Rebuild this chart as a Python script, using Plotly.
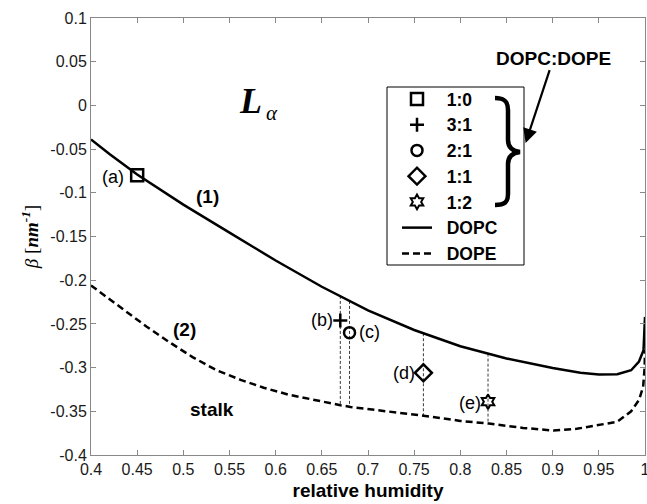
import plotly.graph_objects as go

# ---------------- data ----------------
rh_dopc = [0.40, 0.42, 0.45, 0.50, 0.55, 0.60, 0.65, 0.70, 0.75, 0.80,
           0.85, 0.90, 0.93, 0.95, 0.97, 0.985, 0.9935, 0.9984, 1.000]
beta_dopc = [-0.0390, -0.0555, -0.0790, -0.1135, -0.1455, -0.1775, -0.2075, -0.2345, -0.2570, -0.2755,
             -0.2895, -0.3005, -0.3060, -0.3078, -0.3075, -0.3030, -0.2930, -0.2800, -0.2420]

rh_dope = [0.400, 0.420, 0.440, 0.460, 0.485, 0.510, 0.536, 0.562, 0.587, 0.614,
           0.670, 0.681, 0.720, 0.760, 0.800, 0.831, 0.868, 0.901, 0.926, 0.952,
           0.970, 0.985, 0.9935, 0.998, 0.9996, 1.000]
beta_dope = [-0.206, -0.222, -0.238, -0.253, -0.271, -0.288, -0.303, -0.314, -0.323, -0.331,
             -0.343, -0.345, -0.350, -0.355, -0.361, -0.364, -0.369, -0.372, -0.370, -0.365,
             -0.362, -0.350, -0.337, -0.322, -0.300, -0.280]

mix_names = ["1:0", "3:1", "2:1", "1:1", "1:2"]
mix_tags = ["(a)", "(b)", "(c)", "(d)", "(e)"]
mix_rh = [0.45, 0.67, 0.68, 0.76, 0.83]
mix_beta = [-0.080, -0.246, -0.260, -0.306, -0.339]

tie_rh = [0.67, 0.68, 0.76, 0.83]
tie_top = [-0.218, -0.2237, -0.2607, -0.284]
tie_bottom = [-0.343, -0.345, -0.355, -0.364]

x_tickvals = [0.4, 0.45, 0.5, 0.55, 0.6, 0.65, 0.7, 0.75, 0.8, 0.85, 0.9, 0.95, 1.0]
x_ticktext = ["0.4", "0.45", "0.5", "0.55", "0.6", "0.65", "0.7", "0.75", "0.8", "0.85", "0.9", "0.95", "1"]
y_tickvals = [0.1, 0.05, 0.0, -0.05, -0.1, -0.15, -0.2, -0.25, -0.3, -0.35, -0.4]
y_ticktext = ["0.1", "0.05", "0", "-0.05", "-0.1", "-0.15", "-0.2", "-0.25", "-0.3", "-0.35", "-0.4"]

# ---------------- geometry (page pixels) ----------------
W, H = 647, 504
PL, PR, PT, PB = 91, 645, 18, 455          # plot area in page pixels
PW, PH = PR - PL, PB - PT

def px(x):
    return (x - PL) / PW

def py(y):
    return 1 - (y - PT) / PH

marker_styles = [
    dict(symbol="square-open", size=12, line=dict(width=2.5, color="black")),
    dict(symbol="cross-thin", size=10, line=dict(width=2.5, color="black")),
    dict(symbol="circle-open", size=11, line=dict(width=2.5, color="black")),
    dict(symbol="diamond-open", size=13, line=dict(width=2.5, color="black")),
    dict(symbol="hexagram-open", size=11, line=dict(width=2, color="black")),
]

fig = go.Figure()

# tie lines (thin dashed verticals)
tx, ty = [], []
for xv, top, bot in zip(tie_rh, tie_top, tie_bottom):
    tx += [xv, xv, None]
    ty += [top, bot, None]
fig.add_trace(go.Scatter(x=tx, y=ty, mode="lines", showlegend=False, hoverinfo="skip",
                         line=dict(color="#222", width=0.9, dash="3px,2px")))

fig.add_trace(go.Scatter(x=rh_dopc, y=beta_dopc, mode="lines", name="\u00a0\u00a0DOPC",
                         line=dict(color="black", width=2.5), legendrank=6))
fig.add_trace(go.Scatter(x=rh_dope, y=beta_dope, mode="lines", name="\u00a0\u00a0DOPE",
                         line=dict(color="black", width=2.5, dash="7px,4px"), legendrank=7))

for i, (nm, xv, yv, st) in enumerate(zip(mix_names, mix_rh, mix_beta, marker_styles)):
    fig.add_trace(go.Scatter(x=[xv], y=[yv], mode="markers", name="\u00a0\u00a0" + nm,
                             marker=dict(color="black", **st), legendrank=i + 1))

# ---------------- annotations ----------------
ann = []
tag_pos = [(0.424, -0.082), (0.650, -0.2455), (0.7015, -0.2596), (0.7387, -0.3065), (0.811, -0.3409)]
for tag, (xa, ya) in zip(mix_tags, tag_pos):
    ann.append(dict(x=xa, y=ya, text=tag, showarrow=False,
                    font=dict(size=18, family="Liberation Sans", color="black")))

for txt, xa, ya in [("(1)", 0.526, -0.1045), ("(2)", 0.501, -0.2562), ("stalk", 0.531, -0.3474)]:
    ann.append(dict(x=xa, y=ya, text=txt, showarrow=False,
                    font=dict(size=19, family="Liberation Sans", color="black", weight="bold")))

ann.append(dict(x=0.5725, y=0.005, text="<b><i>L</i></b>", showarrow=False,
                font=dict(size=36, family="Liberation Serif", color="black")))
ann.append(dict(x=0.596, y=-0.0087, text="<i>α</i>", showarrow=False,
                font=dict(size=21, family="Liberation Serif", color="black")))

ann.append(dict(x=0.8707, y=-0.043, ax=0.901, ay=0.054, axref="x", ayref="y",
                text="DOPC:DOPE", showarrow=True, arrowhead=2, arrowsize=1.3, arrowwidth=2.2,
                arrowcolor="black", standoff=0,
                font=dict(size=19, family="Liberation Sans", color="black", weight="bold")))

# ---------------- shapes: legend box and brace ----------------
shapes = [
    dict(type="rect", xref="paper", yref="paper", x0=px(387), x1=px(524), y0=py(265), y1=py(87),
         line=dict(color="black", width=1), fillcolor="rgba(0,0,0,0)", layer="above"),
]
bp = [(495, 98), (505, 98), (508, 102), (508, 110), (508, 140), (508, 147), (512, 151), (520, 152),
      (512, 153), (508, 157), (508, 164), (508, 194), (508, 202), (505, 205), (495, 205)]
bq = [(px(a), py(b)) for a, b in bp]
path = (f"M {bq[0][0]},{bq[0][1]} C {bq[1][0]},{bq[1][1]} {bq[2][0]},{bq[2][1]} {bq[3][0]},{bq[3][1]} "
        f"L {bq[4][0]},{bq[4][1]} C {bq[5][0]},{bq[5][1]} {bq[6][0]},{bq[6][1]} {bq[7][0]},{bq[7][1]} "
        f"C {bq[8][0]},{bq[8][1]} {bq[9][0]},{bq[9][1]} {bq[10][0]},{bq[10][1]} "
        f"L {bq[11][0]},{bq[11][1]} C {bq[12][0]},{bq[12][1]} {bq[13][0]},{bq[13][1]} {bq[14][0]},{bq[14][1]}")
shapes.append(dict(type="path", xref="paper", yref="paper", path=path,
                   line=dict(color="black", width=4.5)))

axis_common = dict(showline=True, linecolor="#888", linewidth=1, mirror="ticks", ticks="inside",
                   ticklen=5, tickcolor="#888", showgrid=False, zeroline=False,
                   ticklabeloverflow="allow",
                   tickfont=dict(size=16, family="Liberation Sans", color="#1a1a1a"))

fig.update_layout(
    width=W, height=H, margin=dict(l=PL, r=W - PR, t=PT, b=H - PB, autoexpand=False),
    plot_bgcolor="white", paper_bgcolor="white",
    font=dict(family="Liberation Sans", color="black"),
    xaxis=dict(range=[0.4, 1.0], tickvals=x_tickvals, ticktext=x_ticktext,
               title=dict(text="relative humidity", standoff=6,
                          font=dict(size=19, family="Liberation Sans", weight="bold")),
               **axis_common),
    yaxis=dict(range=[-0.4, 0.1], tickvals=y_tickvals, ticktext=y_ticktext,
               title=dict(text="<i>β</i> [<b><i>nm</i></b><sup><b><i>-1</i></b></sup>]", standoff=6,
                          font=dict(size=19, family="Liberation Serif")),
               **axis_common),
    showlegend=True,
    legend=dict(x=px(397), y=py(81), xanchor="left", yanchor="top", bgcolor="rgba(0,0,0,0)",
                borderwidth=0, font=dict(size=17.5, family="Liberation Sans", weight="bold"),
                traceorder="normal"),
    annotations=ann, shapes=shapes,
)

fig.write_html("out.html", config={"displayModeBar": False},
               post_script="document.body.style.margin='0';document.body.style.overflow='hidden';")
